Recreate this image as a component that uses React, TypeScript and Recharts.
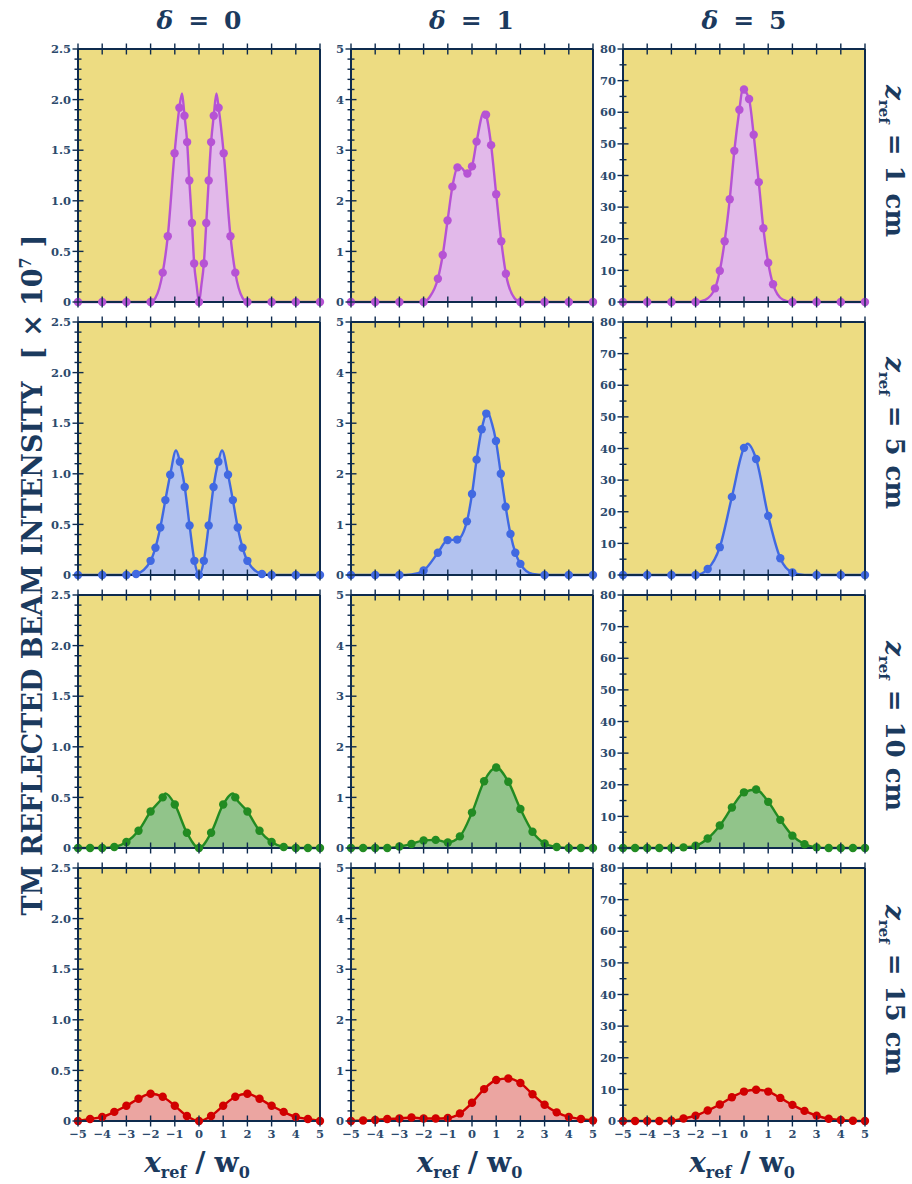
import React from 'react';
import { ComposedChart, Area, XAxis, YAxis, CartesianGrid } from 'recharts';

type P = [number, number];

const d0z1Dots: P[] = [[-5,0],[-4,0],[-3,0],[-2,0],[-1.5,0.29],[-1.29,0.65],[-1.01,1.47],[-0.81,1.92],[-0.6,1.84],[-0.49,1.58],[-0.4,1.2],[-0.29,0.78],[-0.2,0.38],[0,0],[0.2,0.38],[0.3,0.78],[0.4,1.2],[0.5,1.58],[0.61,1.84],[0.81,1.92],[1.02,1.47],[1.3,0.65],[1.5,0.29],[2,0],[3,0],[4,0],[5,0]];
const d0z1Curve: P[] = [[-1.8,0.04],[-0.7,2.06],[-0.1,0.17],[0.1,0.17],[0.72,2.06],[1.8,0.04]];
const d1z1Dots: P[] = [[-5,0],[-4,0],[-3,0],[-2,0],[-1.41,0.46],[-1.21,0.93],[-1.01,1.61],[-0.81,2.28],[-0.6,2.66],[-0.19,2.54],[0,2.68],[0.19,3.17],[0.58,3.7],[0.79,3.1],[1.0,2.13],[1.21,1.2],[1.4,0.56],[2,0],[3,0],[4,0],[5,0]];
const d1z1Curve: P[] = [[-1.75,0.1],[-0.5,2.67],[0.5,3.76],[1.75,0.08]];
const d5z1Dots: P[] = [[-5,0],[-4,0],[-3,0],[-2,0],[-1.2,4.3],[-1.0,9.9],[-0.8,19.2],[-0.59,32.5],[-0.4,47.8],[-0.19,60.8],[0,67.2],[0.21,64.2],[0.4,52.9],[0.61,37.9],[0.8,23.3],[1.0,12.4],[1.2,5.6],[2,0],[3,0],[4,0],[5,0]];
const d5z1Curve: P[] = [[-1.6,0.7],[-0.05,67.6],[1.6,0.8]];

const d0z5Dots: P[] = [[-5,0],[-4,0],[-3,0],[-2.6,0.01],[-2,0.14],[-1.8,0.27],[-1.6,0.47],[-1.39,0.74],[-1.19,0.99],[-0.79,1.12],[-0.59,0.87],[-0.39,0.49],[-0.19,0.14],[0,0],[0.2,0.14],[0.4,0.49],[0.6,0.87],[0.8,1.12],[1.2,0.99],[1.4,0.74],[1.6,0.47],[1.8,0.27],[2,0.14],[2.6,0.01],[3,0],[4,0],[5,0]];
const d0z5Curve: P[] = [[-0.95,1.23],[0.95,1.23]];
const d1z5Dots: P[] = [[-5,0],[-4,0],[-3,0],[-2,0.09],[-1.41,0.44],[-1.01,0.69],[-0.61,0.7],[-0.21,1.06],[0,1.6],[0.19,2.28],[0.4,2.88],[0.59,3.19],[0.99,2.65],[1.19,2.0],[1.39,1.35],[1.59,0.81],[1.79,0.44],[2,0.22],[3,0],[4,0],[5,0]];
const d1z5Curve: P[] = [[-2.5,0.01],[0.65,3.21],[0.82,3.0],[2.5,0.02]];
const d5z5Dots: P[] = [[-5,0],[-4,0],[-3,0],[-2,0],[-1.5,1.9],[-1,8.8],[-0.5,24.7],[0,40.2],[0.5,36.7],[1,18.7],[1.5,5.3],[2,0.8],[3,0],[4,0],[5,0]];
const d5z5Curve: P[] = [[0.15,41.5],[2.5,0.05]];

const d0z10Dots: P[] = [[-5,0],[-4.5,0],[-4,0],[-3.5,0.01],[-3,0.06],[-2.5,0.17],[-2,0.36],[-1.5,0.5],[-1,0.43],[-0.5,0.15],[0,0],[0.5,0.15],[1,0.43],[1.5,0.5],[2,0.36],[2.5,0.17],[3,0.06],[3.5,0.01],[4,0],[4.5,0],[5,0]];
const d0z10Curve: P[] = [[-1.39,0.54],[1.41,0.54]];
const d1z10Dots: P[] = [[-5,0],[-4.5,0],[-4,0],[-3.5,0],[-3,0.03],[-2.5,0.08],[-2,0.15],[-1.5,0.16],[-1,0.11],[-0.5,0.23],[0,0.7],[0.5,1.32],[1,1.59],[1.5,1.31],[2,0.77],[2.5,0.32],[3,0.09],[3.5,0.02],[4,0],[4.5,0],[5,0]];
const d1z10Curve: P[] = [];
const d5z10Dots: P[] = [[-5,0],[-4.5,0],[-4,0],[-3.5,0],[-3,0],[-2.5,0.2],[-2,0.7],[-1.5,3],[-1,7.1],[-0.5,12.8],[0,17.6],[0.5,18.5],[1,14.6],[1.5,8.9],[2,3.9],[2.5,1.2],[3,0.2],[3.5,0],[4,0],[4.5,0],[5,0]];
const d5z10Curve: P[] = [];

const d0z15Dots: P[] = [[-5,0],[-4.5,0.02],[-4,0.04],[-3.5,0.09],[-3,0.15],[-2.5,0.22],[-2,0.27],[-1.5,0.24],[-1,0.15],[-0.5,0.05],[0,0],[0.5,0.05],[1,0.15],[1.5,0.24],[2,0.27],[2.5,0.22],[3,0.15],[3.5,0.09],[4,0.04],[4.5,0.02],[5,0]];
const d0z15Curve: P[] = [];
const d1z15Dots: P[] = [[-5,0],[-4.5,0.01],[-4,0.02],[-3.5,0.04],[-3,0.05],[-2.5,0.07],[-2,0.05],[-1.5,0.05],[-1,0.06],[-0.5,0.15],[0,0.36],[0.5,0.63],[1,0.81],[1.5,0.84],[2,0.75],[2.5,0.53],[3,0.32],[3.5,0.17],[4,0.08],[4.5,0.04],[5,0.01]];
const d1z15Curve: P[] = [];
const d5z15Dots: P[] = [[-5,0],[-4.5,0],[-4,0],[-3.5,0],[-3,0.1],[-2.5,0.8],[-2,1.7],[-1.5,3.3],[-1,5.2],[-0.5,7.5],[0,9.3],[0.5,9.9],[1,9.3],[1.5,7.3],[2,5.1],[2.5,3.2],[3,1.7],[3.5,0.7],[4,0.3],[4.5,0.1],[5,0]];
const d5z15Curve: P[] = [];

// ---- ticks / labels ----
const xTicks = [-5,-4,-3,-2,-1,0,1,2,3,4,5];
const xTickLabels = ['−5','−4','−3','−2','−1','0','1','2','3','4','5'];
const deltas = ['0','1','5'];
const zLabels = ['1','5','10','15'];
const yMajor1 = [0,0.5,1,1.5,2,2.5];
const yLabels1 = ['0','0.5','1.0','1.5','2.0','2.5'];
const yMajor2 = [0,1,2,3,4,5];
const yLabels2 = ['0','1','2','3','4','5'];
const yMajor3 = [0,10,20,30,40,50,60,70,80];
const yLabels3 = ['0','10','20','30','40','50','60','70','80'];

const COLS = [
  { max: 2.5, majors: yMajor1, labels: yLabels1, minor: 0.1 },
  { max: 5, majors: yMajor2, labels: yLabels2, minor: 0.2 },
  { max: 80, majors: yMajor3, labels: yLabels3, minor: 5 },
];
const ROWS = [
  { line: '#b653d4', fill: '#e2b9ea', panels: [[d0z1Dots,d0z1Curve],[d1z1Dots,d1z1Curve],[d5z1Dots,d5z1Curve]] },
  { line: '#4169e1', fill: '#b2c2ef', panels: [[d0z5Dots,d0z5Curve],[d1z5Dots,d1z5Curve],[d5z5Dots,d5z5Curve]] },
  { line: '#228b22', fill: '#91c48a', panels: [[d0z10Dots,d0z10Curve],[d1z10Dots,d1z10Curve],[d5z10Dots,d5z10Curve]] },
  { line: '#d10000', fill: '#eba5a1', panels: [[d0z15Dots,d0z15Curve],[d1z15Dots,d1z15Curve],[d5z15Dots,d5z15Curve]] },
];

// ---- layout ----
const PLOT_L = [78, 350.5, 623];
const PLOT_T = [49, 322, 595, 868];
const PW = 242;
const PH = 253;
const YW = 40;
const RW = 6;
const MT = 2;
const TH = 6;
const BH = 22;
const MR = 4;
const BG = '#eddc82';
const FRAME = '#0e2b4e';
const TICKTXT = '#2c4a6c';
const TITLE = '#1b3a5e';
const SERIF = '"DejaVu Serif", serif';

function allTicks(max: number, step: number) {
  const n = Math.round(max / step);
  const out: number[] = [];
  for (let i = 0; i <= n; i++) out.push(Math.round(i * step * 1000) / 1000);
  return out;
}

function Panel({ row, col }: { row: number; col: number }) {
  const c = COLS[col];
  const r = ROWS[row];
  const [dots, extra] = r.panels[col] as [P[], P[]];
  const data = [
    ...dots.map(([x, y]) => ({ x, c: y, dot: true })),
    ...extra.map(([x, y]) => ({ x, c: y, dot: false })),
  ].sort((a, b) => a.x - b.x);
  const yt = allTicks(c.max, c.minor);
  const isMajor = (v: number) => c.majors.findIndex((m) => Math.abs(m - v) < 1e-6);
  const W = YW + PW + RW + MR;
  const H = MT + TH + PH + BH;

  const leftTick = (p: any) => {
    const { x, y, payload } = p;
    const idx = isMajor(payload.value);
    const len = idx >= 0 ? 5.5 : 3.5;
    return (
      <g>
        <line x1={x - len} x2={x + len} y1={y} y2={y} stroke={FRAME} strokeWidth={1.4} />
        {idx >= 0 && (
          <text x={x - 7} y={y} dy="0.36em" textAnchor="end" fontFamily={SERIF} fontWeight="bold" fontSize={11.5} fill={TICKTXT}>
            {c.labels[idx]}
          </text>
        )}
      </g>
    );
  };
  const rightTick = (p: any) => {
    const { x, y, payload } = p;
    const idx = isMajor(payload.value);
    const len = idx >= 0 ? 5.5 : 3.5;
    return <line x1={x - len} x2={x + len} y1={y} y2={y} stroke={FRAME} strokeWidth={1.4} />;
  };
  const bottomTick = (p: any) => {
    const { x, y, payload } = p;
    const idx = xTicks.indexOf(payload.value);
    return (
      <g>
        <line x1={x} x2={x} y1={y - 5.5} y2={y + 5.5} stroke={FRAME} strokeWidth={1.4} />
        {row === 3 && (
          <text x={x} y={y + 17} textAnchor="middle" fontFamily={SERIF} fontWeight="bold" fontSize={11.5} fill={TICKTXT}>
            {xTickLabels[idx]}
          </text>
        )}
      </g>
    );
  };
  const topTick = (p: any) => {
    const { x, y } = p;
    return <line x1={x} x2={x} y1={y - 5.5} y2={y + 5.5} stroke={FRAME} strokeWidth={1.4} />;
  };
  const renderDot = (p: any) => {
    const { cx, cy, payload, index } = p;
    if (!payload || !payload.dot) return <g key={`n${index}`} />;
    return <circle key={`d${index}`} cx={cx} cy={cy} r={4.2} fill={r.line} stroke="none" />;
  };

  return (
    <div style={{ position: 'absolute', left: PLOT_L[col] - YW, top: PLOT_T[row] - MT - TH, width: W, height: H }}>
      <ComposedChart width={W} height={H} data={data} margin={{ top: MT, right: MR, bottom: 0, left: 0 }}>
        <CartesianGrid fill={BG} fillOpacity={1} stroke="none" horizontal={false} vertical={false} />
        <XAxis dataKey="x" type="number" domain={[-5, 5]} ticks={xTicks} interval={0} height={BH}
          tickSize={0} tickMargin={0} tickLine={false} axisLine={{ stroke: FRAME, strokeWidth: 2 }} tick={bottomTick} />
        <XAxis xAxisId="t" orientation="top" dataKey="x" type="number" domain={[-5, 5]} ticks={xTicks} interval={0} height={TH}
          tickSize={0} tickMargin={0} tickLine={false} axisLine={{ stroke: FRAME, strokeWidth: 2 }} tick={topTick} />
        <YAxis type="number" domain={[0, c.max]} ticks={yt} interval={0} width={YW}
          tickSize={0} tickMargin={0} tickLine={false} axisLine={{ stroke: FRAME, strokeWidth: 2 }} tick={leftTick} />
        <YAxis yAxisId="r" orientation="right" type="number" domain={[0, c.max]} ticks={yt} interval={0} width={RW}
          tickSize={0} tickMargin={0} tickLine={false} axisLine={{ stroke: FRAME, strokeWidth: 2 }} tick={rightTick} />
        <Area type="monotone" dataKey="c" stroke={r.line} strokeWidth={2.4} fill={r.fill} fillOpacity={1}
          dot={renderDot} activeDot={false} isAnimationActive={false} />
      </ComposedChart>
    </div>
  );
}

export default function App() {
  const colCenters = PLOT_L.map((l) => l + PW / 2);
  const rowCenters = [161, 433, 726, 990];
  return (
    <div style={{ position: 'absolute', left: 0, top: 0, width: 912, height: 1184, background: '#fff' }}>
      {ROWS.map((_, ri) => COLS.map((_, ci) => <Panel key={`${ri}-${ci}`} row={ri} col={ci} />))}
      <svg width={912} height={1184} style={{ position: 'absolute', left: 0, top: 0, pointerEvents: 'none' }}>
        {deltas.map((d, i) => (
          <text key={`t${i}`} x={colCenters[i]} y={29} textAnchor="middle" fontFamily={SERIF} fontWeight="bold" fontSize={25} fill={TITLE}>
            <tspan fontStyle="italic">δ</tspan>
            <tspan dx={15}>=</tspan>
            <tspan dx={15}>{d}</tspan>
          </text>
        ))}
        {zLabels.map((z, i) => (
          <text key={`z${i}`} x={886} y={rowCenters[i]} transform={`rotate(90 886 ${rowCenters[i]})`} textAnchor="middle"
            fontFamily={SERIF} fontWeight="bold" fontSize={26} fill={TITLE}>
            <tspan fontStyle="italic">z</tspan>
            <tspan dy={7} fontSize={15}>ref</tspan>
            <tspan dy={-7} dx={10}>=</tspan>
            <tspan dx={10}>{z}</tspan>
            <tspan dx={10}>cm</tspan>
          </text>
        ))}
        {colCenters.map((cx, i) => (
          <text key={`x${i}`} x={cx - 2} y={1172} textAnchor="middle" fontFamily={SERIF} fontWeight="bold" fontSize={28} fill={TITLE}>
            <tspan fontStyle="italic">x</tspan>
            <tspan dy={6} fontSize={16}>ref</tspan>
            <tspan dy={-6} dx={9}>/</tspan>
            <tspan dx={9}>w</tspan>
            <tspan dy={6} fontSize={16}>0</tspan>
          </text>
        ))}
        <text x={42} y={575} transform="rotate(-90 42 575)" textAnchor="middle" fontFamily={SERIF} fontWeight="bold" fontSize={27} fill={TITLE}>
          <tspan>TM REFLECTED BEAM INTENSITY</tspan>
          <tspan dx={22}>[</tspan>
          <tspan dx={10}>×</tspan>
          <tspan dx={8}>10</tspan>
          <tspan dy={-11} fontSize={16}>7</tspan>
          <tspan dy={11} dx={10}>]</tspan>
        </text>
      </svg>
    </div>
  );
}
